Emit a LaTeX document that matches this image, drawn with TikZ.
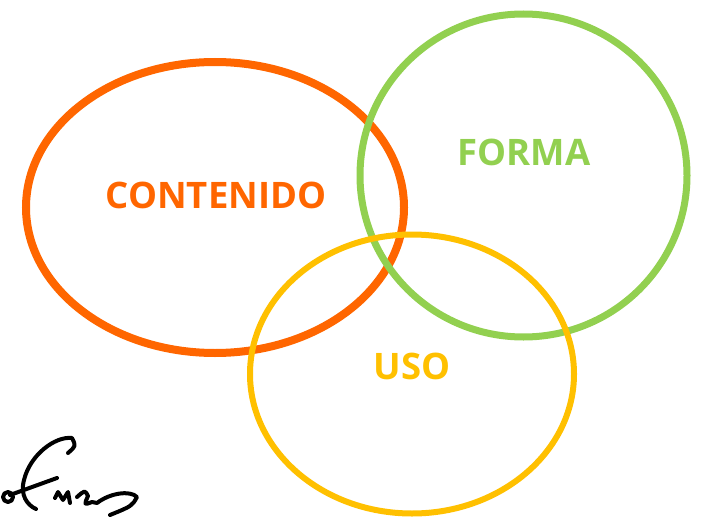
\documentclass[tikz,border=0pt]{standalone}
\usepackage{fontspec}
\setmainfont{Open Sans}
\definecolor{cOrange}{HTML}{FF6600}
\definecolor{cGreen}{HTML}{92D050}
\definecolor{cGold}{HTML}{FFC000}
\begin{document}
\begin{tikzpicture}[x=1pt,y=-1pt,
    label text/.style={font=\fontsize{36.5}{42}\selectfont\bfseries},
    sign/.style={line width=4pt,line cap=round,line join=round}]

    % --- Canvas ---
    \useasboundingbox (0,0) rectangle (704,519);

    % --- Centres ---
    \coordinate (C1) at (215,207.5);  % Contenido
    \coordinate (C2) at (523.5,175.5); % Forma
    \coordinate (C3) at (412,374);    % Uso

    % --- Ellipses ---
    \draw[cOrange,line width=8pt] (C1) ellipse [x radius=189,y radius=145.5];
    \draw[cGreen,line width=7pt] (C2) ellipse [x radius=163.5,y radius=161.5];
    \draw[cGold,line width=6pt] (C3) ellipse [x radius=162,y radius=139.5];

    % --- Labels ---
    \node[label text,text=cOrange] (contenido) at (216,195) {CONTENIDO};
    \node[label text,text=cGreen] (forma) at (524,152) {FORMA};
    \node[label text,text=cGold] (uso) at (412,366) {USO};

    % --- Signature ---
    \draw[sign] (8,497) circle (5);
    \draw[sign] (10,495) -- (57,478);
    \draw[sign] (68,453) .. controls (76,446) .. (72,438)
        .. controls (55,436) and (30,455) .. (24,480)
        .. controls (20,495) and (27,505) .. (36,509);
    \draw[sign] (55,498) -- (58,492) -- (63,500) -- (68,492) -- (70,503);
    \draw[sign] (77,497) .. controls (85,490) .. (88,496)
        .. controls (84,505) .. (92,502) -- (97,503)
        .. controls (110,493) and (130,490) .. (137,497)
        .. controls (132,506) .. (110,515);

\end{tikzpicture}
\end{document}
